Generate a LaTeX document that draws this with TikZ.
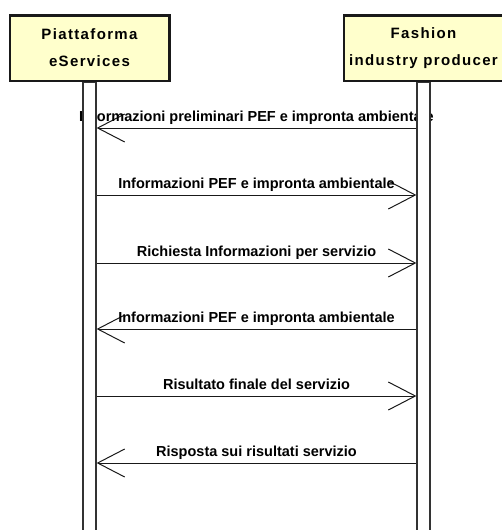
\documentclass[tikz,border=0pt]{standalone}
\usepackage{fontspec}
\setmainfont{Liberation Sans}
\newfontfamily\headfont[LetterSpace=9]{Liberation Sans}
\usetikzlibrary{arrows.meta,backgrounds}
\definecolor{actorfill}{RGB}{255,255,204}

\begin{document}
\begin{tikzpicture}[x=1pt,y=-1pt,
  actor/.style={draw=black!90, line width=2.5pt, fill=actorfill, minimum width=159.5pt, minimum height=65.5pt, inner sep=0pt, align=center, font=\headfont\bfseries\fontsize{15}{27}\selectfont},
  lifeline/.style={draw=black!80, line width=1.2pt, fill=white, minimum width=13pt, minimum height=470pt, inner sep=0pt, anchor=north},
  msg/.style={draw=black!90, line width=1pt, -{Straight Barb[length=27pt,width=28pt]}},
  msglabel/.style={midway, anchor=base, yshift=7pt, inner sep=0pt, font=\bfseries\fontsize{14.5}{17}\selectfont}]
\useasboundingbox (0,0) rectangle (501,530);
\node[actor] (platform) at (89.5,48) {Piattaforma\\eServices};
\node[actor] (producer) at (423.5,48) {Fashion\\industry producer};
\node[lifeline] (platformline) at (platform.south) {};
\node[lifeline] (producerline) at (producer.south) {};
\begin{scope}[on background layer]
\draw[msg] (producerline.west |- 0,128) -- (platformline.east |- 0,128) node[msglabel] {Informazioni preliminari PEF e impronta ambientale};
\draw[msg] (platformline.east |- 0,195) -- (producerline.west |- 0,195) node[msglabel] {Informazioni PEF e impronta ambientale};
\draw[msg] (platformline.east |- 0,263) -- (producerline.west |- 0,263) node[msglabel] {Richiesta Informazioni per servizio};
\draw[msg] (producerline.west |- 0,329) -- (platformline.east |- 0,329) node[msglabel] {Informazioni PEF e impronta ambientale};
\draw[msg] (platformline.east |- 0,396) -- (producerline.west |- 0,396) node[msglabel] {Risultato finale del servizio};
\draw[msg] (producerline.west |- 0,463) -- (platformline.east |- 0,463) node[msglabel] {Risposta sui risultati servizio};
\end{scope}
\end{tikzpicture}
\end{document}
